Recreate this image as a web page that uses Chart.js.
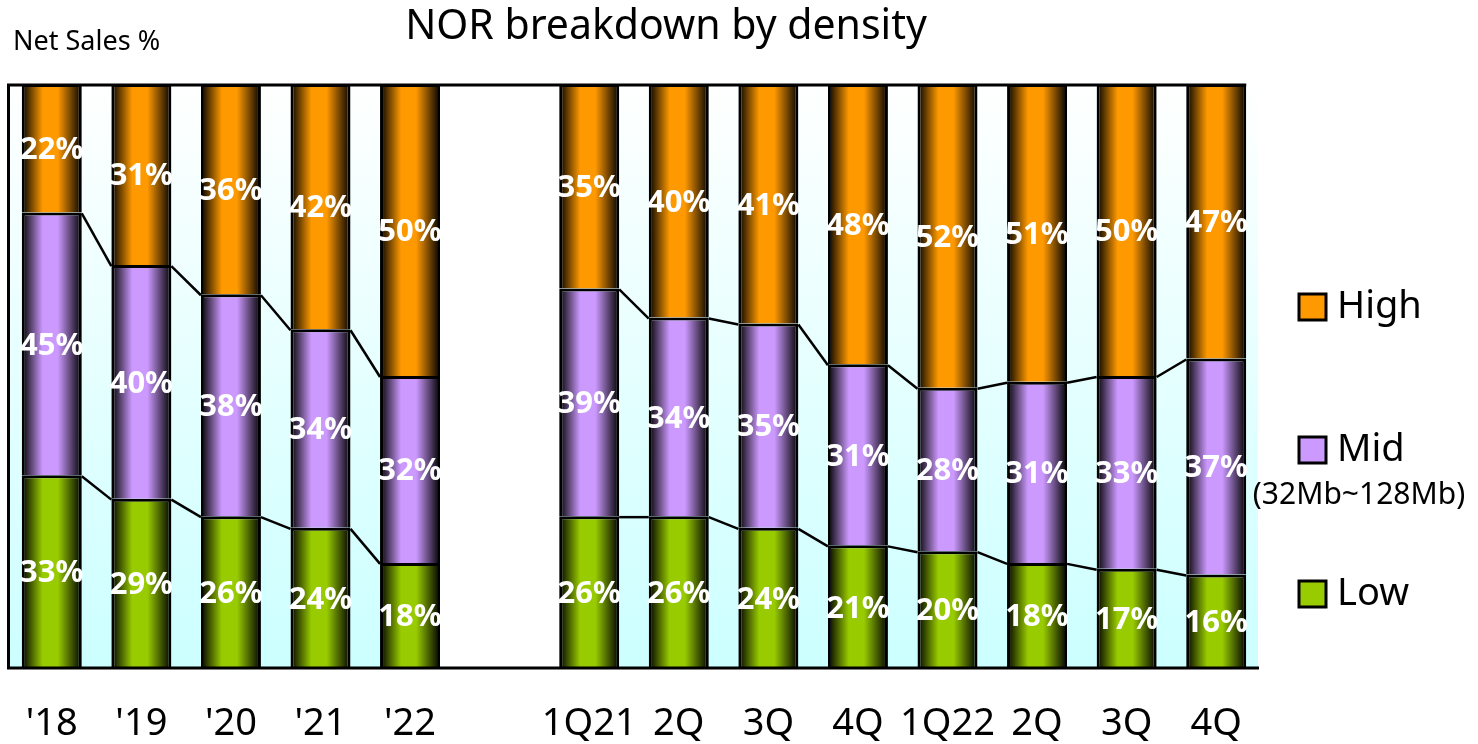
<!DOCTYPE html>
<html>
<head>
<meta charset="utf-8">
<script src="https://cdn.jsdelivr.net/npm/chart.js@4.4.1/dist/chart.umd.min.js"></script>
<style>
  html, body { margin: 0; padding: 0; background: #fff; }
  #wrap { width: 1478px; height: 744px; }
</style>
</head>
<body>
<div id="wrap"><canvas id="norChart" width="1478" height="744"></canvas></div>
<script>
// data
const categories = ["'18", "'19", "'20", "'21", "'22", '', '1Q21', '2Q', '3Q', '4Q', '1Q22', '2Q', '3Q', '4Q'];
const lowShare  = [33, 29, 26, 24, 18, null, 26, 26, 24, 21, 20, 18, 17, 16];
const midShare  = [45, 40, 38, 34, 32, null, 39, 34, 35, 31, 28, 31, 33, 37];
const highShare = [22, 31, 36, 42, 50, null, 35, 40, 41, 48, 52, 51, 50, 47];
const gapIndex = 5;

const FONT = '"Noto Sans", "Open Sans", sans-serif';
const BAR_PCT = 0.67;

// cylinder-ish shading: black edges, bright centre
function barFill(base) {
  return (ctx) => {
    const chart = ctx.chart;
    const xs = chart.scales.x;
    if (!chart.chartArea || !xs) return base;
    const cx = xs.getPixelForValue(ctx.dataIndex);
    const w = xs.width / categories.length * BAR_PCT;
    const g = chart.ctx.createLinearGradient(cx - w / 2, 0, cx + w / 2, 0);
    g.addColorStop(0, '#000000');
    g.addColorStop(0.35, base);
    g.addColorStop(0.6, base);
    g.addColorStop(1, '#000000');
    return g;
  };
}

function barEdges(chart, i) {
  const el = chart.getDatasetMeta(0).data[i];
  return { left: el.x - el.width / 2, right: el.x + el.width / 2 };
}

const backdrop = {
  id: 'backdrop',
  beforeDatasetsDraw(chart) {
    const { ctx, chartArea: a } = chart;
    ctx.save();
    const g = ctx.createLinearGradient(0, a.top, 0, a.bottom);
    g.addColorStop(0, '#ffffff');
    g.addColorStop(1, '#ccffff');
    ctx.fillStyle = g;
    ctx.fillRect(a.left, a.top, a.right - a.left - 3, a.bottom - a.top);
    // blank column between the yearly and quarterly bars
    const l = barEdges(chart, gapIndex - 1).right;
    const r = barEdges(chart, gapIndex + 1).left;
    ctx.fillStyle = '#ffffff';
    ctx.fillRect(l, a.top, r - l, a.bottom - a.top);
    ctx.restore();
  }
};

const overlay = {
  id: 'overlay',
  afterDatasetsDraw(chart) {
    const { ctx, chartArea: a } = chart;
    ctx.save();
    // connector lines at the Low/Mid and Mid/High boundaries
    ctx.strokeStyle = '#000';
    ctx.lineWidth = 2.5;
    [0, 1].forEach(d => {
      const pts = chart.getDatasetMeta(d).data;
      const vals = chart.data.datasets[d].data;
      for (let i = 0; i < pts.length - 1; i++) {
        if (vals[i] == null || vals[i + 1] == null) continue;
        const p = pts[i], q = pts[i + 1];
        ctx.beginPath();
        ctx.moveTo(p.x + p.width / 2, p.y + 1);
        ctx.lineTo(q.x - q.width / 2, q.y + 1);
        ctx.stroke();
      }
    });

    // axis frame
    const lastRight = barEdges(chart, categories.length - 1).right;
    ctx.lineWidth = 3;
    ctx.beginPath();
    ctx.moveTo(a.left + 1.5, a.top);
    ctx.lineTo(a.left + 1.5, a.bottom + 1.5);
    ctx.moveTo(a.left, a.bottom);
    ctx.lineTo(a.right - 2, a.bottom);
    ctx.moveTo(a.left, a.top + 1);
    ctx.lineTo(lastRight, a.top + 1);
    ctx.stroke();

    // value labels
    ctx.fillStyle = '#ffffff';
    ctx.font = 'bold 31px ' + FONT;
    ctx.textAlign = 'center';
    ctx.textBaseline = 'middle';
    chart.data.datasets.forEach((ds, d) => {
      chart.getDatasetMeta(d).data.forEach((el, i) => {
        if (ds.data[i] == null) return;
        ctx.fillText(ds.data[i] + '%', el.x, (el.y + el.base) / 2 + 2);
      });
    });
    ctx.restore();
  },
  afterDraw(chart) {
    const ctx = chart.ctx;
    ctx.save();
    ctx.fillStyle = '#000';
    ctx.textBaseline = 'middle';
    ctx.textAlign = 'center';
    ctx.font = '41px ' + FONT;
    ctx.fillText('NOR breakdown by density', 666, 27);
    ctx.textAlign = 'left';
    ctx.font = '27px ' + FONT;
    ctx.fillText('Net Sales %', 13, 42);

    // legend, top to bottom: High, Mid, Low
    const rows = [
      { ds: 2, y: 307 },
      { ds: 1, y: 450, sub: '(32Mb~128Mb)' },
      { ds: 0, y: 594 }
    ];
    rows.forEach(r => {
      const ds = chart.data.datasets[r.ds];
      ctx.fillStyle = ds.swatch;
      ctx.fillRect(1299, r.y - 13, 27, 26);
      ctx.strokeStyle = '#000';
      ctx.lineWidth = 3;
      ctx.strokeRect(1299, r.y - 13, 27, 26);
      ctx.fillStyle = '#000';
      ctx.textAlign = 'left';
      ctx.font = '38px ' + FONT;
      ctx.fillText(ds.label, 1337, r.y);
      if (r.sub) {
        ctx.textAlign = 'center';
        ctx.font = '30px ' + FONT;
        ctx.fillText(r.sub, 1359, r.y + 45);
      }
    });
    ctx.restore();
  }
};

const seriesStyle = [
  { label: 'Low',  data: lowShare,  swatch: '#99cc00' },
  { label: 'Mid',  data: midShare,  swatch: '#cc99ff' },
  { label: 'High', data: highShare, swatch: '#ff9900' }
];

new Chart(document.getElementById('norChart').getContext('2d'), {
  type: 'bar',
  data: {
    labels: categories,
    datasets: seriesStyle.map(s => ({
      label: s.label,
      data: s.data,
      swatch: s.swatch,
      backgroundColor: barFill(s.swatch),
      borderColor: '#000000',
      borderWidth: 3,
      borderSkipped: 'start',
      barPercentage: BAR_PCT,
      categoryPercentage: 1
    }))
  },
  plugins: [backdrop, overlay],
  options: {
    responsive: false,
    animation: false,
    layout: { autoPadding: false, padding: { left: 7, right: 217, top: 84, bottom: 1 } },
    plugins: {
      legend: { display: false },
      title: { display: false },
      tooltip: { enabled: false }
    },
    scales: {
      x: {
        stacked: true,
        grid: { display: false, drawTicks: false },
        border: { display: false },
        ticks: {
          color: '#000',
          padding: 37,
          font: { family: FONT, size: 38, lineHeight: 1 },
          maxRotation: 0,
          autoSkip: false
        },
        afterFit(scale) {
          scale.height = 75;
          scale.paddingLeft = 0;
          scale.paddingRight = 0;
        }
      },
      y: {
        stacked: true,
        display: false,
        min: 0,
        max: 100
      }
    }
  }
});
</script>
</body>
</html>
